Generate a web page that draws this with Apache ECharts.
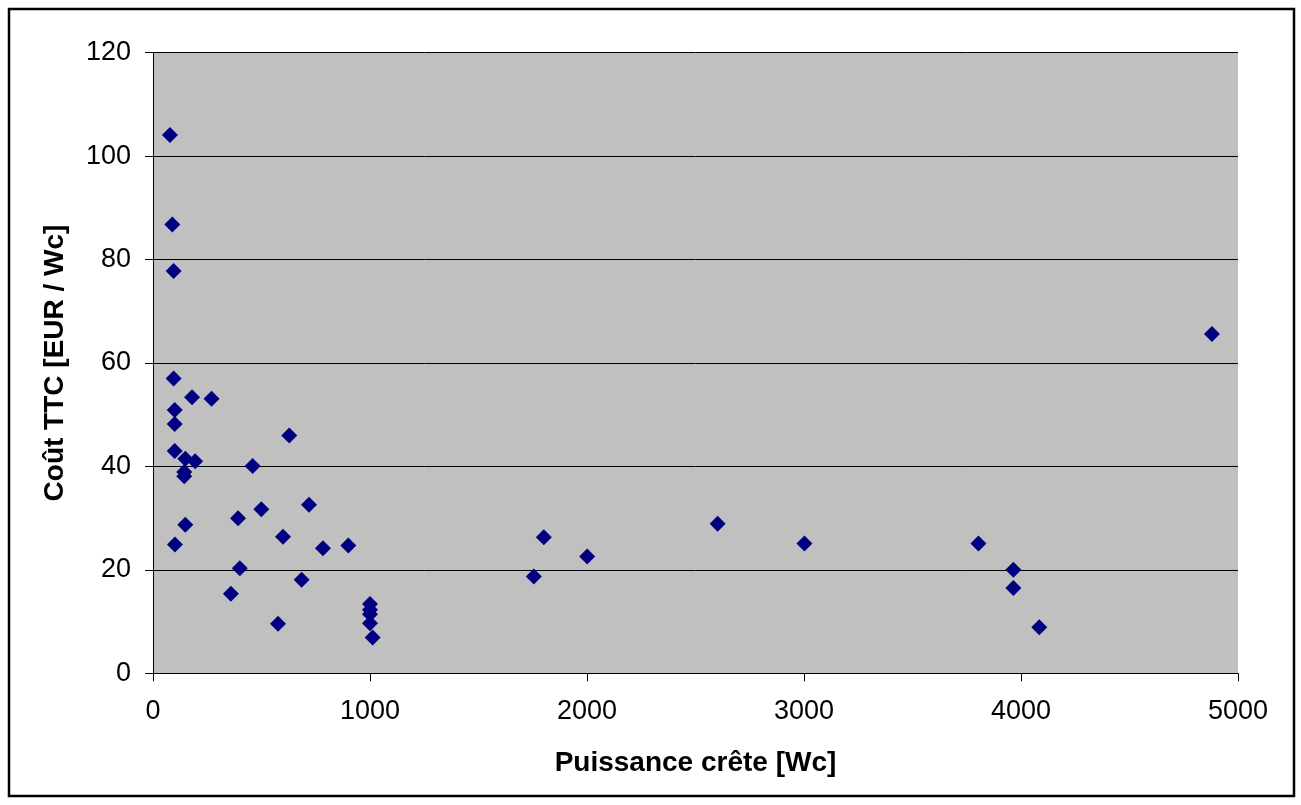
<!DOCTYPE html>
<html>
<head>
<meta charset="utf-8">
<script src="https://cdn.jsdelivr.net/npm/echarts@6/dist/echarts.min.js"></script>
<style>
html,body{margin:0;padding:0;background:#fff;}
#chart{width:1301px;height:805px;}
</style>
</head>
<body>
<div id="chart"></div>
<script>
var puissance = [78, 89, 95, 95, 180, 270, 100, 100, 628, 100, 149, 194, 459, 144, 144, 499, 719, 392, 149, 599, 101, 783, 900, 400, 685, 359, 576, 1000, 1000, 1000, 1000, 1012, 1755, 1801, 2001, 2602, 3002, 3804, 3965, 3965, 4084, 4880];
var cout = [104.1, 86.8, 77.8, 57.0, 53.4, 53.1, 50.9, 48.2, 46.0, 43.0, 41.5, 41.0, 40.1, 38.9, 38.1, 31.7, 32.6, 30.0, 28.7, 26.4, 24.9, 24.2, 24.7, 20.3, 18.1, 15.4, 9.6, 13.4, 12.3, 11.4, 9.7, 6.9, 18.7, 26.3, 22.6, 28.9, 25.1, 25.1, 20.0, 16.5, 8.9, 65.6];
var xTitle = 'Puissance crête [Wc]';
var yTitle = 'Coût TTC [EUR / Wc]';

var points = puissance.map(function (x, i) { return [x, cout[i]]; });

var chart = echarts.init(document.getElementById('chart'), null, {renderer: 'canvas'});
var font = 'Arial, "Liberation Sans", Helvetica, sans-serif';
chart.setOption({
  animation: false,
  backgroundColor: '#ffffff',
  graphic: [{
    type: 'rect',
    shape: {x: 9, y: 9, width: 1285, height: 787},
    style: {fill: 'none', stroke: '#000', lineWidth: 2.5},
    z: 100
  }],
  grid: {
    left: 153, top: 52.7, right: 63, bottom: 131.7,
    show: true, backgroundColor: '#c0c0c0', borderWidth: 0
  },
  xAxis: {
    type: 'value', min: 0, max: 5000, interval: 1000,
    name: xTitle, nameLocation: 'middle', nameGap: 76,
    nameTextStyle: {fontFamily: font, fontSize: 28, fontWeight: 'bold', color: '#000'},
    axisLine: {show: true, onZero: false, lineStyle: {color: '#000', width: 1}},
    axisTick: {show: true, length: 8, lineStyle: {color: '#000'}},
    axisLabel: {fontFamily: font, fontSize: 27, color: '#000', margin: 25,
      formatter: function (v) { return String(v); }},
    splitLine: {show: false}
  },
  yAxis: {
    type: 'value', min: 0, max: 120, interval: 20,
    name: yTitle, nameLocation: 'middle', nameGap: 84, nameRotate: 90,
    nameTextStyle: {fontFamily: font, fontSize: 28, fontWeight: 'bold', color: '#000'},
    axisLine: {show: true, onZero: false, lineStyle: {color: '#000', width: 1}},
    axisTick: {show: true, length: 8, lineStyle: {color: '#000'}},
    axisLabel: {fontFamily: font, fontSize: 27, color: '#000', margin: 22,
      formatter: function (v) { return String(v); }},
    splitLine: {show: true, lineStyle: {color: '#000', width: 1}}
  },
  series: [{
    type: 'scatter',
    data: points,
    symbol: 'diamond',
    symbolSize: 16,
    itemStyle: {color: '#000080', opacity: 1},
    emphasis: {disabled: true}
  }]
});
</script>
</body>
</html>
